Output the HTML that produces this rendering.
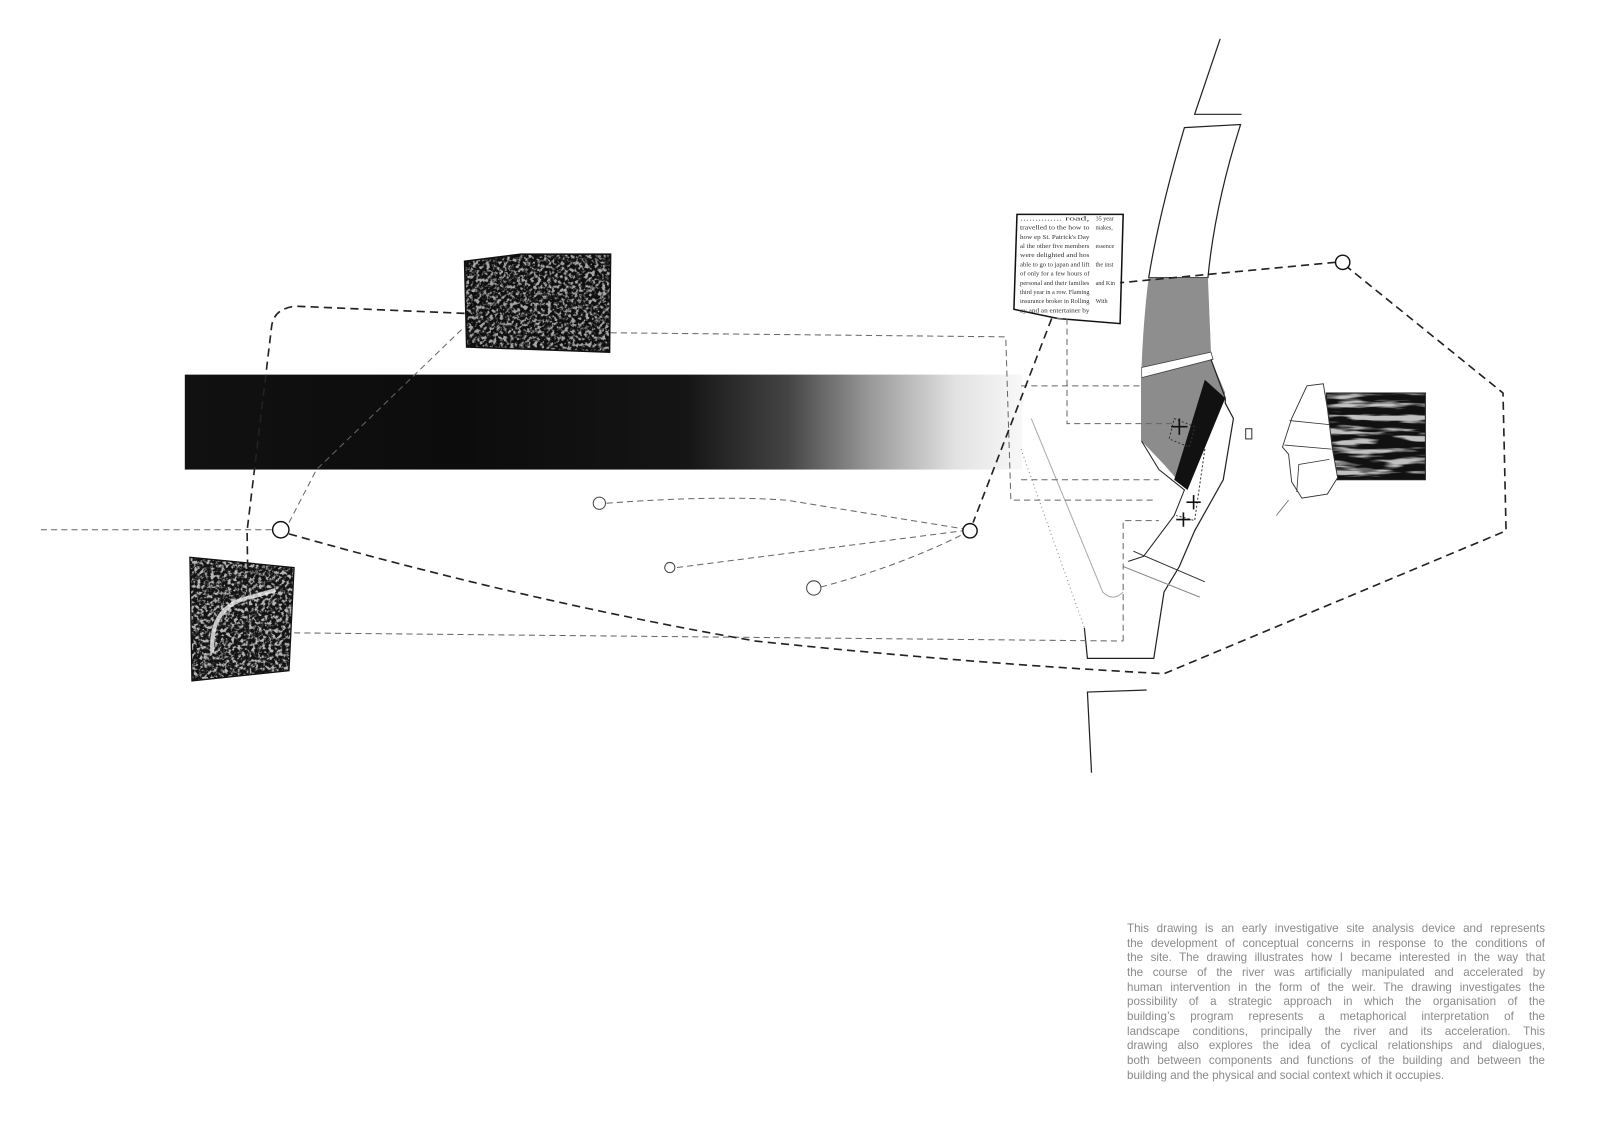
<!DOCTYPE html>
<html><head><meta charset="utf-8"><style>
html,body{margin:0;padding:0;background:#fff;}
body{width:1600px;height:1131px;position:relative;overflow:hidden;}
svg{position:absolute;left:0;top:0;}
.txt{position:absolute;left:1127px;top:922px;width:418px;font-family:"Liberation Sans",sans-serif;font-size:11.6px;line-height:14.65px;color:#8a8a8a;}
.txt div{text-align:justify;text-align-last:justify;white-space:nowrap;}
.txt div.l{text-align-last:left;}
</style></head><body>
<svg width="1600" height="1131" viewBox="0 0 1567 1108" preserveAspectRatio="none">
<defs>
<linearGradient id="band" x1="0" x2="1" y1="0" y2="0">
<stop offset="0" stop-color="#111"/>
<stop offset="0.33" stop-color="#0c0c0c"/>
<stop offset="0.6" stop-color="#151515"/>
<stop offset="0.72" stop-color="#444"/>
<stop offset="0.82" stop-color="#9a9a9a"/>
<stop offset="0.92" stop-color="#e2e2e2"/>
<stop offset="1" stop-color="#f8f8f8"/>
</linearGradient>
<filter id="tex" x="0" y="0" width="100%" height="100%">
<feTurbulence type="fractalNoise" baseFrequency="0.3" numOctaves="3" seed="7" result="n"/>
<feColorMatrix in="n" type="matrix" values="0 0 0 0 0  0 0 0 0 0  0 0 0 0 0  3 3 3 0 -3.7" result="m"/>
<feComposite in="m" in2="SourceGraphic" operator="in"/>
</filter>
<filter id="stripe" x="0" y="0" width="100%" height="100%">
<feTurbulence type="fractalNoise" baseFrequency="0.02 0.15" numOctaves="3" seed="2" result="n"/>
<feColorMatrix in="n" type="matrix" values="0 0 0 0 0  0 0 0 0 0  0 0 0 0 0  3 3 3 0 -3.6" result="m"/>
<feComposite in="m" in2="SourceGraphic" operator="in"/>
</filter>
<clipPath id="flc"><polygon points="455,256 510,249 598,249 597,345 457,340"/></clipPath>
<clipPath id="blc"><polygon points="186,546 288,556 283,657 188,667"/></clipPath>
</defs>

<rect x="181" y="367" width="820" height="93" fill="url(#band)"/>

<rect x="450" y="245" width="152" height="104" fill="#d8d8d8" clip-path="url(#flc)"/>
<rect x="450" y="245" width="152" height="104" fill="#fff" filter="url(#tex)" clip-path="url(#flc)"/>
<polygon points="455,256 510,249 598,249 597,345 457,340" fill="#333" opacity="0.3"/>
<polygon points="455,256 510,249 598,249 597,345 457,340" fill="none" stroke="#111" stroke-width="1.5"/>

<rect x="184" y="544" width="106" height="126" fill="#e4e4e4" clip-path="url(#blc)"/>
<rect x="184" y="544" width="106" height="126" fill="#fff" filter="url(#tex)" clip-path="url(#blc)"/>
<polygon points="186,546 288,556 283,657 188,667" fill="#444" opacity="0.28"/>
<path d="M208,640 Q205,600 235,588 L270,578" stroke="#f0f0f0" stroke-width="4" fill="none" opacity="0.8"/>
<polygon points="186,546 288,556 283,657 188,667" fill="none" stroke="#111" stroke-width="1.3"/>

<polygon points="996,210 1100,210 1097,317 1036,312 993,303" fill="#fff" stroke="#111" stroke-width="1.5"/>
<g font-family="Liberation Serif,serif" font-size="6" fill="#333" textLength="68">
<text x="999" y="216" textLength="68" lengthAdjust="spacingAndGlyphs">..............  road,</text>
<text x="999" y="225" textLength="68" lengthAdjust="spacingAndGlyphs">travelled to the how to</text>
<text x="999" y="234" textLength="68" lengthAdjust="spacingAndGlyphs">how ep St. Patrick's Day</text>
<text x="999" y="243" textLength="68" lengthAdjust="spacingAndGlyphs">al the other five members</text>
<text x="999" y="252" textLength="68" lengthAdjust="spacingAndGlyphs">were delighted and hos</text>
<text x="999" y="261" textLength="68" lengthAdjust="spacingAndGlyphs">able to go to japan and lift</text>
<text x="999" y="270" textLength="68" lengthAdjust="spacingAndGlyphs">of only for a few hours of</text>
<text x="999" y="279" textLength="68" lengthAdjust="spacingAndGlyphs">personal and their families</text>
<text x="999" y="288" textLength="68" lengthAdjust="spacingAndGlyphs">third year in a row. Flaming</text>
<text x="999" y="297" textLength="68" lengthAdjust="spacingAndGlyphs">insurance broker in Rolling</text>
<text x="999" y="306" textLength="68" lengthAdjust="spacingAndGlyphs">ay and an entertainer by</text>
<text x="1073" y="216">35 year</text>
<text x="1073" y="225">makes,</text>
<text x="1073" y="243">essence</text>
<text x="1073" y="261">the inst</text>
<text x="1073" y="279">and Kin</text>
<text x="1073" y="297">With</text>
</g>

<polyline points="1195,38 1170,112 1216,112" fill="none" stroke="#222" stroke-width="1.2"/>

<path d="M1125,272 Q1135,210 1160,125 L1215,122 Q1190,200 1183,272 Z" fill="#fff" stroke="#222" stroke-width="1.2"/>
<path d="M1125,272 L1183,272 L1186,345 L1118,360 Q1120,310 1125,272 Z" fill="#8e8e8e"/>
<path d="M1118,370 L1186,352 L1200,385 L1160,478 L1140,455 L1118,432 Z" fill="#8c8c8c"/>
<path d="M1180,372 L1200,390 L1163,480 L1150,470 Z" fill="#111"/>
<path d="M1118,360 L1186,345 L1188,352 L1118,370 Z" fill="#fff" stroke="#444" stroke-width="0.8"/>
<path d="M1186,352 L1200,390 L1200,395 L1208,410 L1198,470 L1170,520 L1155,555 L1140,580 L1130,645 L1065,645 L1062,615" fill="none" stroke="#222" stroke-width="1.2"/>
<path d="M1118,432 L1135,460 L1160,480 L1150,505 L1120,545 L1105,550" fill="none" stroke="#222" stroke-width="1"/>
<path d="M1110,540 L1180,570" fill="none" stroke="#333" stroke-width="1"/>
<path d="M1100,555 L1175,585" fill="none" stroke="#888" stroke-width="1"/>
<path d="M1118,432 L1118,360" stroke="#888" stroke-width="1"/>
<path d="M1000,440 L1062,615" fill="none" stroke="#888" stroke-width="1" stroke-dasharray="1 3"/>
<path d="M1010,410 L1080,580 Q1090,590 1100,580" fill="none" stroke="#aaa" stroke-width="1"/>
<rect x="1220" y="420" width="6" height="10" fill="none" stroke="#333"/>
<path d="M1150,410 L1170,418 L1165,438 L1145,430 Z" fill="none" stroke="#333" stroke-dasharray="2 2"/>
<path d="M1180,440 L1170,510 L1152,505" fill="none" stroke="#333" stroke-dasharray="2 2"/>
<g stroke="#111" stroke-width="1.6">
<line x1="1147" y1="418" x2="1163" y2="418"/><line x1="1155" y1="410" x2="1155" y2="426"/>
<line x1="1162" y1="492" x2="1176" y2="492"/><line x1="1169" y1="485" x2="1169" y2="499"/>
<line x1="1152" y1="509" x2="1166" y2="509"/><line x1="1159" y1="502" x2="1159" y2="516"/>
</g>

<rect x="1299" y="385" width="97" height="85" fill="#dcdcdc"/>
<rect x="1299" y="385" width="97" height="85" fill="#fff" filter="url(#stripe)"/>
<rect x="1299" y="385" width="97" height="85" fill="#555" opacity="0.2"/>
<rect x="1299" y="385" width="97" height="85" fill="none" stroke="#222" stroke-width="1"/>
<path d="M1280,378 L1296,376 L1300,400 L1305,440 L1310,468 L1300,484 L1275,488 L1265,472 L1262,445 L1256,438 L1265,410 Z" fill="#fff" stroke="#333" stroke-width="0.9"/>
<path d="M1263,412 L1302,416 M1258,436 L1304,440 M1302,450 L1272,455 L1270,482" fill="none" stroke="#333" stroke-width="0.8"/>
<path d="M1262,490 L1250,505" stroke="#666" stroke-width="0.8"/>

<polyline points="1123,676 1065,678 1069,757" fill="none" stroke="#222" stroke-width="1.2"/>

<g fill="none" stroke="#666" stroke-width="1" stroke-dasharray="6 4">
<line x1="40" y1="519" x2="268" y2="519"/>
<polyline points="283,512 310,460 455,320"/>
<polyline points="598,326 985,330 990,490 1130,490"/>
<line x1="1000" y1="378" x2="1120" y2="378"/>
<line x1="1000" y1="470" x2="1135" y2="470"/>
<polyline points="1035,312 1045,312 1045,415 1150,415"/>
<line x1="288" y1="620" x2="1100" y2="628"/>
<polyline points="1100,628 1100,510 1135,510"/>
<path d="M594,493 Q700,485 770,490 L943,518"/>
<line x1="663" y1="556" x2="943" y2="520"/>
<path d="M804,575 Q880,555 944,523"/>
</g>
<g fill="none" stroke="#222" stroke-width="1.6" stroke-dasharray="8 5">
<path d="M455,307 L290,300 Q268,302 266,320 L242,520 L244,660"/>
<path d="M283,523 Q520,590 740,628 Q950,650 1140,660 L1475,520 L1472,385 L1320,262"/>
<line x1="1308" y1="257" x2="1097" y2="277"/>
<line x1="1030" y1="312" x2="953" y2="512"/>
</g>
<g fill="#fff" stroke="#111" stroke-width="1.4">
<circle cx="275" cy="519" r="8"/>
<circle cx="950" cy="520" r="7"/>
<circle cx="1315" cy="257" r="7"/>
</g>
<g fill="#fff" stroke="#444" stroke-width="1">
<circle cx="587" cy="493" r="6"/>
<circle cx="656" cy="556" r="5"/>
<circle cx="797" cy="576" r="7"/>
</g>
</svg>
<div class="txt">
<div>This drawing is an early investigative site analysis device and represents</div>
<div>the development of conceptual concerns in response to the conditions of</div>
<div>the site. The drawing illustrates how I became interested in the way that</div>
<div>the course of the river was artificially manipulated and accelerated by</div>
<div>human intervention in the form of the weir. The drawing investigates the</div>
<div>possibility of a strategic approach in which the organisation of the</div>
<div>building’s program represents a metaphorical interpretation of the</div>
<div>landscape conditions, principally the river and its acceleration. This</div>
<div>drawing also explores the idea of cyclical relationships and dialogues,</div>
<div>both between components and functions of the building and between the</div>
<div class="l">building and the physical and social context which it occupies.</div>
</div>
</body></html>
